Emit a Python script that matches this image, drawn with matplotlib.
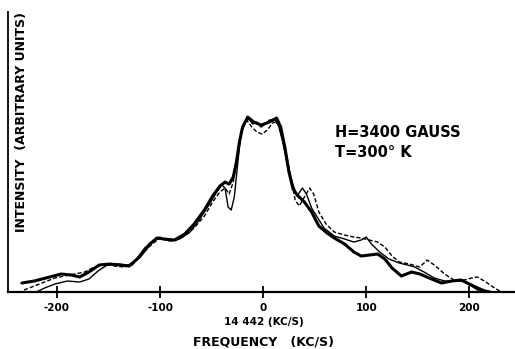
import matplotlib
matplotlib.use('Agg')
import matplotlib.pyplot as plt

# Frequency offsets (kc/s) and intensity (arbitrary units)
freq_a = [-234, -222, -207, -196, -186, -178, -169, -159, -149, -139, -130, -120,
          -110, -103, -96, -86, -76, -67, -57, -49, -42, -37, -33, -29, -26, -23,
          -20, -15, -9, -2, 6, 13, 17, 21, 25, 29, 33, 40, 47, 54, 62, 69, 79, 88,
          95, 103, 111, 118, 125, 134, 144, 152, 161, 173, 183, 192, 200, 208, 215, 220]
inten_a = [9, 11, 15, 18, 17, 15, 20, 27, 28, 27, 26, 35,
           48, 54, 53, 52, 58, 68, 82, 96, 106, 110, 108, 115, 130, 150,
           165, 175, 170, 167, 170, 174, 165, 145, 120, 103, 97, 90, 80, 66, 59, 54, 48, 40,
           36, 37, 38, 33, 24, 16, 20, 18, 14, 9, 11, 12, 8, 4, 1, 0]

freq_b = [-220, -212, -202, -190, -178, -169, -159, -151, -141, -131, -125, -115,
          -105, -99, -91, -81, -71, -62, -52, -45, -40, -37, -34, -31, -28, -25,
          -22, -18, -14, -10, -6, -2, 2, 6, 11, 15, 19, 23, 28, 33, 38, 42, 47, 53,
          59, 69, 79, 88, 95, 100, 105, 113, 122, 132, 140, 147, 156, 166, 176, 185,
          195, 202, 208, 214]
inten_b = [0, 4, 8, 11, 10, 13, 22, 27, 28, 27, 30, 44,
           52, 54, 51, 53, 60, 72, 88, 100, 107, 104, 85, 82, 95, 125,
           155, 170, 173, 168, 170, 165, 168, 172, 173, 166, 150, 130, 110, 96, 104, 98, 84, 74,
           64, 56, 53, 50, 52, 55, 48, 40, 33, 29, 27, 25, 20, 14, 11, 11,
           11, 6, 2, 0]

freq_c = [-232, -217, -202, -188, -173, -164, -154, -144, -135, -127, -120, -112,
          -105, -100, -95, -86, -76, -67, -57, -49, -42, -37, -33, -29, -25, -21,
          -16, -11, -6, -1, 4, 10, 15, 19, 23, 28, 31, 35, 40, 45, 49, 54, 61, 69,
          79, 88, 95, 103, 111, 118, 125, 132, 142, 152, 159, 166, 176, 185, 195,
          202, 208, 216, 223, 231]
inten_c = [2, 8, 14, 17, 20, 25, 28, 26, 25, 27, 35, 44,
           50, 55, 52, 51, 56, 64, 76, 90, 100, 104, 98, 110, 135, 160,
           172, 165, 160, 158, 162, 170, 168, 155, 135, 110, 92, 86, 95, 104, 98, 80, 68, 60,
           57, 55, 54, 52, 50, 45, 36, 30, 28, 25, 32, 27, 18, 12, 12,
           14, 15, 10, 5, 0]

tick_pos = [-200, -100, 0, 100, 200]
tick_lab = ['-200', '-100', '0', '100', '200']

fig = plt.figure(figsize=(5.15, 3.49), dpi=100)
ax = fig.add_axes([0.0155, 0.1633, 0.984, 0.802])

ax.plot(freq_a, inten_a, color='black', linewidth=2.2, solid_capstyle='round')
ax.plot(freq_b, inten_b, color='black', linewidth=1.0)
ax.plot(freq_c, inten_c, color='black', linewidth=1.0, linestyle=(0, (3, 1.5)))

ax.set_xlim(-247.5, 244)
ax.set_ylim(0, 280)

for s in ['top', 'right']:
    ax.spines[s].set_visible(False)
ax.spines['left'].set_linewidth(1.3)
ax.spines['bottom'].set_linewidth(1.6)

ax.set_yticks([])
ax.set_xticks(tick_pos)
ax.set_xticklabels(tick_lab, fontsize=7.5, fontweight='bold')
ax.tick_params(axis='x', direction='inout', length=8, width=1.3, pad=4)

# y label sits inside the frame, just right of the left spine
fig.text(0.0427, 1 - 12 / 349, 'INTENSITY  (ARBITRARY UNITS)', fontsize=9,
         fontweight='bold', rotation=90, ha='center', va='top')

fig.text(0.512, 0.077, '14 442 (KC/S)', fontsize=7.5, fontweight='bold', ha='center', va='center')
fig.text(0.512, 0.02, 'FREQUENCY   (KC/S)', fontsize=9, fontweight='bold', ha='center', va='center')

fig.text(0.65, 0.619, 'H=3400 GAUSS', fontsize=10.5, fontweight='bold', ha='left', va='center')
fig.text(0.65, 0.562, 'T=300° K', fontsize=10.5, fontweight='bold', ha='left', va='center')

plt.savefig('out.png', dpi=100)
